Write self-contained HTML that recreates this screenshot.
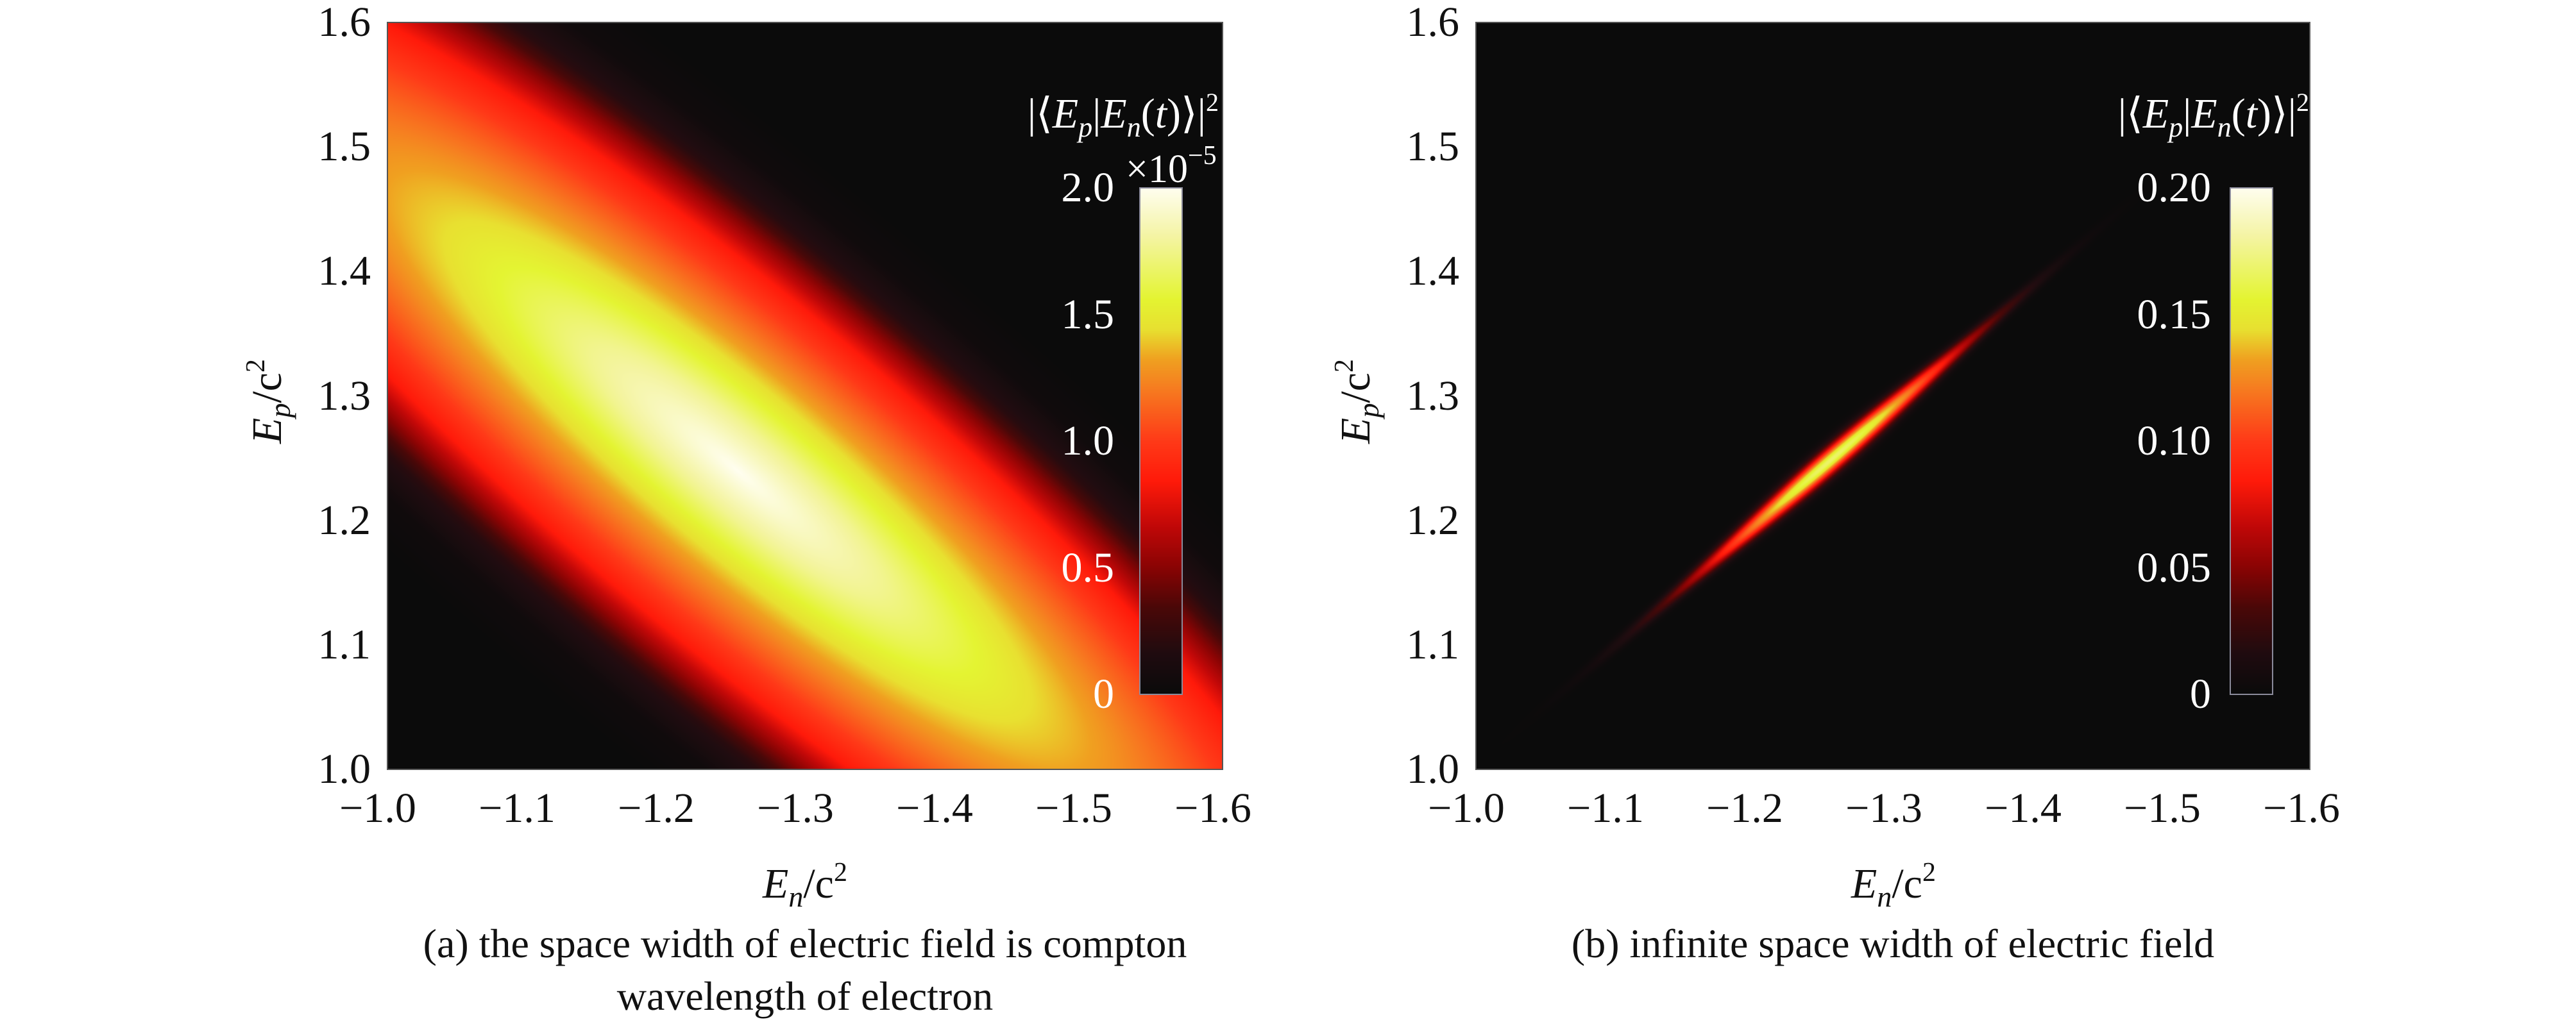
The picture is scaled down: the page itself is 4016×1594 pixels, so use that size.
<!DOCTYPE html>
<html><head><meta charset="utf-8">
<style>
html,body{margin:0;padding:0;background:#fff;}
body{width:4016px;height:1594px;position:relative;overflow:hidden;font-family:"Liberation Serif","Times New Roman","DejaVu Serif",serif;color:#111;}
.t{position:absolute;white-space:nowrap;font-size:66px;line-height:1;}
.w{color:#fff;}
canvas{position:absolute;}
.frame{position:absolute;border:2px solid #555;box-sizing:border-box;}
.cb{position:absolute;border:2px solid #8a8a9a;box-sizing:border-box;}
i{font-style:italic;}
</style></head><body>
<canvas id="c1" width="1302" height="1165" style="left:604px;top:35px"></canvas>
<canvas id="c2" width="1300" height="1165" style="left:2301px;top:35px"></canvas>
<div class="frame" style="left:603px;top:34px;width:1304px;height:1167px"></div>
<div class="frame" style="left:2300px;top:34px;width:1302px;height:1167px"></div>
<canvas id="b1" width="66" height="790" style="left:1777px;top:293px"></canvas>
<canvas id="b2" width="66" height="790" style="left:3477px;top:293px"></canvas>
<div class="cb" style="left:1776px;top:292px;width:68px;height:792px"></div>
<div class="cb" style="left:3476px;top:292px;width:68px;height:792px"></div>
<div id="txt"></div>
<script>
function cmap(f){
 var s=[[0,11,11,11],[0.08,32,12,16],[0.17,74,8,8],[0.25,138,4,4],[0.33,192,8,8],[0.42,255,26,10],[0.5,255,58,24],[0.6,247,122,32],[0.66,240,160,32],[0.72,232,224,48],[0.78,228,244,50],[0.9,244,244,160],[1,255,254,240]];
 if(f<=0)return s[0].slice(1);if(f>=1)return s[s.length-1].slice(1);
 for(var i=1;i<s.length;i++){if(f<=s[i][0]){var a=s[i-1],b=s[i],t=(f-a[0])/(b[0]-a[0]);return [a[1]+(b[1]-a[1])*t,a[2]+(b[2]-a[2])*t,a[3]+(b[3]-a[3])*t];}}
}
function draw(id,W,H,fn){
 var c=document.getElementById(id),x=c.getContext('2d'),im=x.createImageData(W,H),d=im.data;
 for(var j=0;j<H;j++){
  for(var i=0;i<W;i++){var col=cmap(fn(i,j));var k=(j*W+i)*4;d[k]=col[0];d[k+1]=col[1];d[k+2]=col[2];d[k+3]=255;}}
 x.putImageData(im,0,0);
}
var GP=[[0,1],[0.5,0.88],[1,0.72],[1.4,0.6],[2.06,0.42],[2.4,0.25],[2.7,0.1],[3.1,0.02],[3.6,0]];
function G(r){if(r>=3.6)return 0;for(var k=1;k<GP.length;k++){if(r<=GP[k][0]){var a=GP[k-1],b=GP[k];return a[1]+(b[1]-a[1])*(r-a[0])/(b[0]-a[0]);}}return 0;}
var ca=Math.cos(43.4*Math.PI/180),sa=Math.sin(43.4*Math.PI/180);
draw('c1',1302,1165,function(i,j){
 var zx=(i+4)*1560/1310,zy=(j+5)*1560/1175;
 var dx=zx-655,dy=zy-935;
 var d=dx*ca+dy*sa,p=-dx*sa+dy*ca;
 var r=Math.sqrt((d/736)*(d/736)+(p/160)*(p/160));
 return G(r);});
var cb=Math.cos(40.8*Math.PI/180),sb=Math.sin(40.8*Math.PI/180);
draw('c2',1300,1165,function(i,j){
 var dx=i-554,dy=j-681;
 var d=dx*cb-dy*sb,p=dx*sb+dy*cb;
 var a=0.84*Math.exp(-d*d/(2*195*195));
 var w=12*(0.5+0.5*Math.exp(-d*d/(2*180*180)));
 return a*Math.exp(-p*p/(2*w*w));});
['b1','b2'].forEach(function(id){var c=document.getElementById(id),x=c.getContext('2d');
 for(var j=0;j<790;j++){var col=cmap(1-j/789);x.fillStyle='rgb('+(col[0]|0)+','+(col[1]|0)+','+(col[2]|0)+')';x.fillRect(0,j,66,1);}});
var h='';
function T(x,y,s,cls,al){h+='<div class="t '+(cls||'')+'" style="left:'+x+'px;top:'+y+'px;'+(al||'')+'">'+s+'</div>';}
var yl=['1.0','1.1','1.2','1.3','1.4','1.5','1.6'];
[[604],[2301]].forEach(function(p){var L=p[0];
 for(var i=0;i<7;i++){var y=1200-i*1165/6;
  T(L-26-200,y-33,yl[i],'','width:200px;text-align:right');
  var x=L+i*1302/6;
  T(x-15-150,1228,'&minus;'+(1+i/10).toFixed(1),'','width:300px;text-align:center');}
 T(L+651-150,1340,'<i>E<sub style="font-size:46px;vertical-align:-14px">n</sub></i>/c<sup style="font-size:42px;vertical-align:26px">2</sup>','','width:300px;text-align:center');
 h+='<div class="t" style="left:'+(L-185-150)+'px;top:585px;width:300px;text-align:center;transform:rotate(-90deg)"><i>E<sub style="font-size:46px;vertical-align:-14px">p</sub></i>/c<sup style="font-size:42px;vertical-align:26px">2</sup></div>';
});
var tt='|&#x27E8;<i>E<sub style="font-size:44px;vertical-align:-14px">p</sub></i>|<i>E<sub style="font-size:44px;vertical-align:-14px">n</sub></i>(<i>t</i>)&#x27E9;|<sup style="font-size:40px;vertical-align:26px">2</sup>';
T(1400,140,tt,'w','width:500px;text-align:right');
T(3100,140,tt,'w','width:500px;text-align:right');
T(1755,222,'&times;10<sup style="font-size:42px;vertical-align:28px">&minus;5</sup>','w','font-size:62px');
var l1=['0','0.5','1.0','1.5','2.0'],l2=['0','0.05','0.10','0.15','0.20'];
for(var i=0;i<5;i++){var y=1083-i*790/4;
 T(1737-200,y-33,l1[i],'w','width:200px;text-align:right');
 T(3447-200,y-33,l2[i],'w','width:200px;text-align:right');}
T(1255-700,1440,'(a) the space width of electric field is compton','','width:1400px;text-align:center;font-size:64px');
T(1255-700,1522,'wavelength of electron','','width:1400px;text-align:center;font-size:64px');
T(2951-700,1440,'(b) infinite space width of electric field','','width:1400px;text-align:center;font-size:64px');
document.getElementById('txt').innerHTML=h;
</script>
</body></html>
